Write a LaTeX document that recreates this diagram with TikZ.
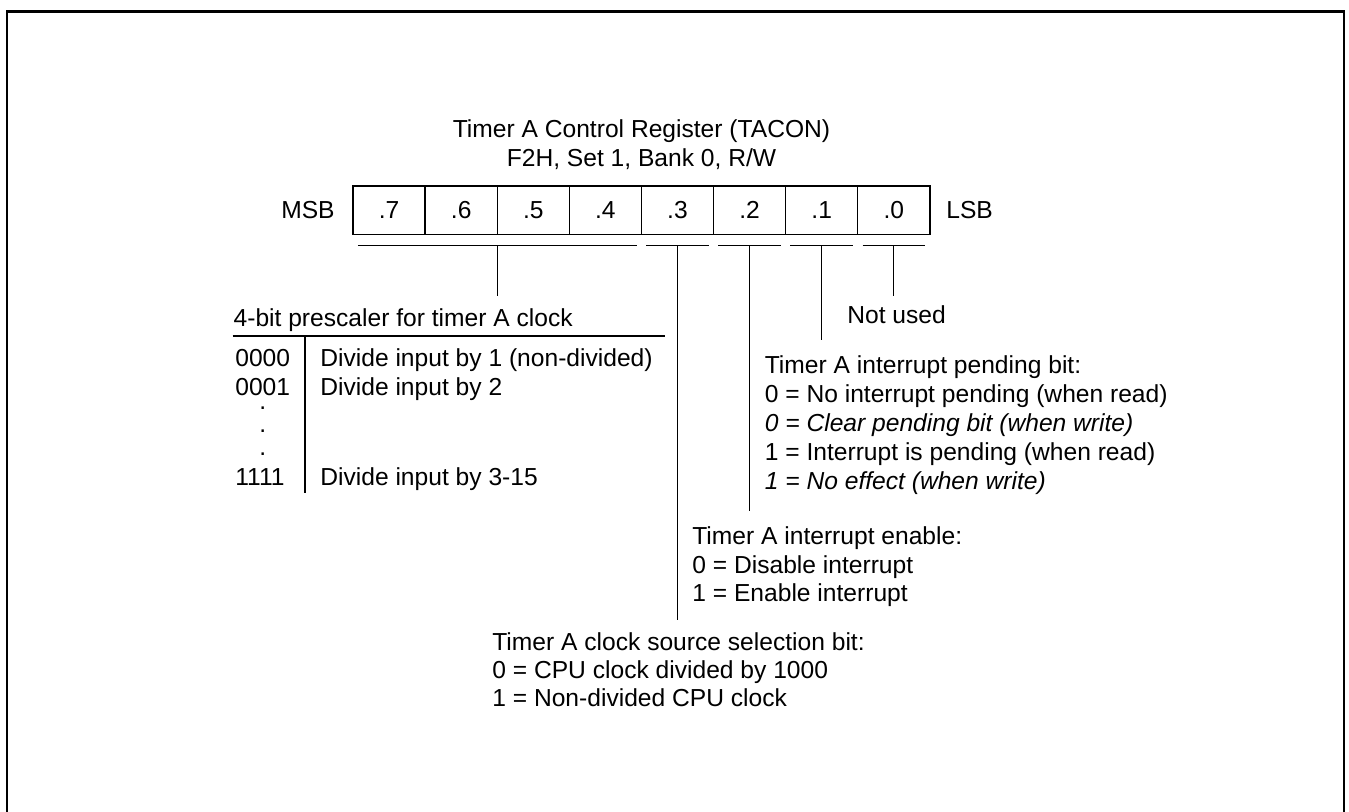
\documentclass[tikz,border=0pt]{standalone}
\usepackage{fontspec}
\setmainfont{Liberation Sans}
\usepackage{tikz}
\usetikzlibrary{calc}

\begin{document}
\begin{tikzpicture}[x=0.2mm, y=-0.2mm,
  txt/.style={font=\fontsize{14}{16.5}\selectfont, inner sep=0pt},
  itxt/.style={txt, font=\fontsize{14}{16.5}\selectfont\itshape},
  bitcell/.style={draw, line width=0.75pt, minimum width=1.442cm, minimum height=0.974cm,
    inner sep=0pt, font=\fontsize{14}{16.5}\selectfont},
  rule/.style={draw, line width=0.75pt},
  frame/.style={draw, line width=1.3pt}
]
  \useasboundingbox (0,0) rectangle (1349,812);
  \draw[frame] (6.7,830) -- (6.7,11.5) -- (1344.3,11.5) -- (1344.3,830);

  \node[txt, anchor=base] (title) at (641.5,137.3) {Timer A Control Register (TACON)};
  \node[txt, anchor=base] (addr) at (641.5,166.7) {F2H, Set 1, Bank 0, R/W};

  \foreach \i/\b in {0/7,1/6,2/5,3/4,4/3,5/2,6/1,7/0}
    \node[bitcell] (b\b) at (389.1+72.1*\i,210.4) {.\b};
  \node[txt, anchor=east] (msb) at (335,210.4) {MSB};
  \node[txt, anchor=west] (lsb) at (946,210.4) {LSB};

  \foreach \g/\l/\r/\len in {hi/b7/b4/50.3, t3/b3/b3/374.3, t2/b2/b2/265.3,
    t1/b1/b1/95, t0/b0/b0/50.3} {
    \coordinate (\g-l) at ($(\l.south west)+(5.5,10)$);
    \coordinate (\g-r) at ($(\r.south east)+(-5.5,10)$);
    \coordinate (\g-m) at ($(\g-l)!0.5!(\g-r)$);
    \coordinate (\g-e) at ($(\g-m)+(0,\len)$);
    \draw[rule] (\g-l) -- (\g-r);
    \draw[rule] (\g-m) -- (\g-e);
  }

  \node[txt, anchor=base west] (pshead) at (233.3,326.7) {4-bit prescaler for timer A clock};
  \coordinate (ps-l) at (232.7,336);
  \coordinate (ps-r) at (665,336);
  \coordinate (ps-t) at (305,336);
  \coordinate (ps-b) at (305,493);
  \draw[rule] (ps-l) -- (ps-r);
  \draw[rule] (ps-t) -- (ps-b);
  \foreach \n/\code/\desc/\y in {r0/0000/Divide input by 1 (non-divided)/366.7,
    r1/0001/Divide input by 2/395, r15/1111/Divide input by 3-15/485} {
    \node[txt, anchor=base west] (\n-code) at (235,\y) {\code};
    \node[txt, anchor=base west] (\n-desc) at (320,\y) {\desc};
  }
  \foreach \k/\y in {1/409.5,2/432.2,3/455.5}
    \node[txt, anchor=base] (dot\k) at (262.7,\y) {.};

  \node[txt, anchor=base west] (unused) at (847,323.6) {Not used};
  \foreach \k/\y/\st/\msg in {0/373.6/txt/Timer A interrupt pending bit:,
    1/402.6/txt/0 = No interrupt pending (when read),
    2/431.6/itxt/0 = Clear pending bit (when write),
    3/460.6/txt/1 = Interrupt is pending (when read),
    4/489.6/itxt/1 = No effect (when write)}
    \node[\st, anchor=base west] (pend\k) at (764.5,\y) {\msg};

  \foreach \k/\y/\msg in {0/544.5/Timer A interrupt enable:, 1/573/0 = Disable interrupt,
    2/601.7/1 = Enable interrupt}
    \node[txt, anchor=base west] (en\k) at (692,\y) {\msg};

  \foreach \k/\y/\msg in {0/650/Timer A clock source selection bit:,
    1/678.5/0 = CPU clock divided by 1000, 2/706.7/1 = Non-divided CPU clock}
    \node[txt, anchor=base west] (src\k) at (492,\y) {\msg};
\end{tikzpicture}
\end{document}
